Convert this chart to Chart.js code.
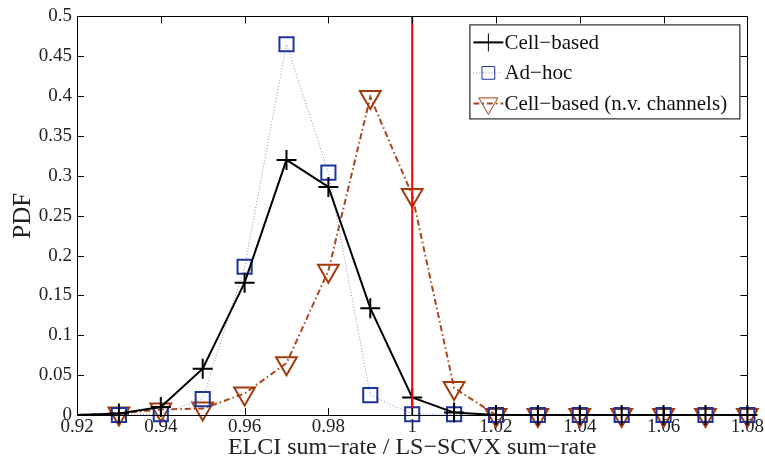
<!DOCTYPE html>
<html>
<head>
<meta charset="utf-8">
<script src="https://cdn.jsdelivr.net/npm/chart.js@4/dist/chart.umd.min.js"></script>
<style>
  html, body { margin: 0; padding: 0; background: #fff; }
</style>
</head>
<body>
<canvas id="pdf" width="765" height="461"></canvas>
<script>
// values
const xValues = [0.92, 0.93, 0.94, 0.95, 0.96, 0.97, 0.98, 0.99, 1.00, 1.01, 1.02, 1.03, 1.04, 1.05, 1.06, 1.07, 1.08];
const cellBased = [0, 0.002, 0.01, 0.058, 0.166, 0.32, 0.286, 0.134, 0.022, 0.003, 0, 0, 0, 0, 0, 0, 0];
const adHoc = [0, 0, 0.001, 0.02, 0.186, 0.465, 0.304, 0.025, 0.001, 0.001, 0, 0, 0, 0, 0, 0, 0];
const nvChannels = [0, 0.002, 0.007, 0.008, 0.027, 0.065, 0.181, 0.399, 0.276, 0.034, 0, 0, 0, 0, 0, 0, 0];
const refLineX = [1, 1];
const refLineY = [0, 0.5];

const xTicks = [0.92, 0.94, 0.96, 0.98, 1.00, 1.02, 1.04, 1.06, 1.08];
const yTicks = [0, 0.05, 0.1, 0.15, 0.2, 0.25, 0.3, 0.35, 0.4, 0.45, 0.5];

function pts(ys) {
    return xValues.map((x, i) => ({ x: x, y: ys[i] }));
}
// no marker at the left edge point
const markerSize = (r) => (ctx) => ctx.dataIndex === 0 ? 0 : r;

const serif = "'Liberation Serif', 'DejaVu Serif', serif";

// matlab-like box with inward ticks
const boxTicks = {
    id: 'boxTicks',
    afterDraw(chart) {
        const c = chart.ctx;
        const a = chart.chartArea;
        const xs = chart.scales.x, ys = chart.scales.y;
        c.save();
        c.strokeStyle = '#000';
        c.lineWidth = 1;
        c.beginPath();
        xTicks.forEach(v => {
            const px = Math.round(xs.getPixelForValue(v)) + 0.5;
            c.moveTo(px, a.bottom); c.lineTo(px, a.bottom - 7);
            c.moveTo(px, a.top); c.lineTo(px, a.top + 7);
        });
        yTicks.forEach(v => {
            const py = Math.round(ys.getPixelForValue(v)) + 0.5;
            c.moveTo(a.left, py); c.lineTo(a.left + 7, py);
            c.moveTo(a.right, py); c.lineTo(a.right - 7, py);
        });
        c.stroke();
        c.strokeRect(Math.round(a.left) + 0.5, Math.round(a.top) + 0.5, Math.round(a.right - a.left), Math.round(a.bottom - a.top));
        c.restore();
    }
};

// legend box inside the plot, top right
const boxLegend = {
    id: 'boxLegend',
    afterDraw(chart) {
        const c = chart.ctx;
        const a = chart.chartArea;
        const sets = chart.data.datasets.filter(d => d.label !== 'ref');
        const w = 270, h = 94;
        const left = a.right - 8 - w, top = a.top + 8;
        c.save();
        c.fillStyle = '#fff';
        c.fillRect(left, top, w, h);
        c.strokeStyle = '#000';
        c.lineWidth = 1;
        c.strokeRect(left + 0.5, top + 0.5, w, h);
        sets.forEach((d, i) => {
            const cy = top + 18 + i * 30.5;
            c.save();
            c.strokeStyle = d.borderColor;
            c.lineWidth = d.borderWidth;
            c.setLineDash(d.borderDash || []);
            c.beginPath();
            c.moveTo(left + 4, cy);
            c.lineTo(left + 34, cy);
            c.stroke();
            c.restore();
            c.save();
            c.strokeStyle = d.pointBorderColor;
            c.fillStyle = 'transparent';
            Chart.helpers.drawPoint(c, {
                pointStyle: d.pointStyle,
                rotation: d.rotation || 0,
                radius: d.legendRadius,
                borderWidth: d.pointBorderWidth
            }, left + 19, cy);
            c.restore();
            c.fillStyle = '#111';
            c.font = '21px ' + serif;
            c.textBaseline = 'middle';
            c.textAlign = 'left';
            c.fillText(d.label, left + 35, cy + 1);
        });
        c.restore();
    }
};

const ctx = document.getElementById('pdf').getContext('2d');
const chart = new Chart(ctx, {
    type: 'line',
    data: {
        datasets: [
            {
                label: 'ref',
                data: refLineX.map((x, i) => ({ x: x, y: refLineY[i] })),
                borderColor: '#ff0000',
                borderWidth: 2,
                pointRadius: 0,
                clip: false
            },
            {
                label: 'Cell−based',
                data: pts(cellBased),
                borderColor: '#000',
                borderWidth: 2,
                pointStyle: 'cross',
                pointRadius: markerSize(10),
                legendRadius: 9,
                pointBorderColor: '#000',
                pointBorderWidth: 2,
                pointBackgroundColor: 'transparent',
                clip: false
            },
            {
                label: 'Ad−hoc',
                data: pts(adHoc),
                borderColor: '#8090d8',
                borderWidth: 1,
                borderDash: [1, 2],
                pointStyle: 'rect',
                pointRadius: markerSize(10),
                legendRadius: 9,
                pointBorderColor: '#1c349c',
                pointBorderWidth: 2,
                pointBackgroundColor: 'transparent',
                clip: false
            },
            {
                label: 'Cell−based (n.v. channels)',
                data: pts(nvChannels),
                borderColor: '#a8461a',
                borderWidth: 2,
                borderDash: [6, 3, 1.5, 3],
                pointStyle: 'triangle',
                rotation: 180,
                pointRadius: markerSize(12),
                legendRadius: 11,
                pointBorderColor: '#a23a0c',
                pointBorderWidth: 2,
                pointBackgroundColor: 'transparent',
                clip: false
            }
        ]
    },
    options: {
        responsive: false,
        animation: false,
        layout: { padding: { left: 0, right: 16, top: 15, bottom: 0 } },
        plugins: {
            legend: { display: false },
            tooltip: { enabled: false }
        },
        scales: {
            x: {
                type: 'linear',
                min: 0.92,
                max: 1.08,
                afterBuildTicks: (s) => { s.ticks = xTicks.map(v => ({ value: v })); },
                afterFit: (s) => { s.height = 46; },
                grid: { display: false, drawTicks: false },
                border: { display: false },
                ticks: {
                    color: '#222',
                    padding: 1,
                    maxRotation: 0,
                    font: { family: serif, size: 19 },
                    callback: (v) => String(parseFloat(v.toFixed(2)))
                },
                title: {
                    display: true,
                    text: 'ELCI sum−rate / LS−SCVX sum−rate',
                    color: '#222',
                    padding: { top: 0, bottom: -1 },
                    font: { family: serif, size: 24 }
                }
            },
            y: {
                min: 0,
                max: 0.5,
                afterBuildTicks: (s) => { s.ticks = yTicks.map(v => ({ value: v })); },
                afterFit: (s) => { s.width = 77; },
                grid: { display: false, drawTicks: false },
                border: { display: false },
                ticks: {
                    color: '#222',
                    padding: 5,
                    font: { family: serif, size: 19 },
                    callback: (v) => String(parseFloat(v.toFixed(2)))
                },
                title: {
                    display: true,
                    text: 'PDF',
                    color: '#222',
                    padding: { top: 8, bottom: 0 },
                    font: { family: serif, size: 25 }
                }
            }
        }
    },
    plugins: [boxTicks, boxLegend]
});
</script>
</body>
</html>
